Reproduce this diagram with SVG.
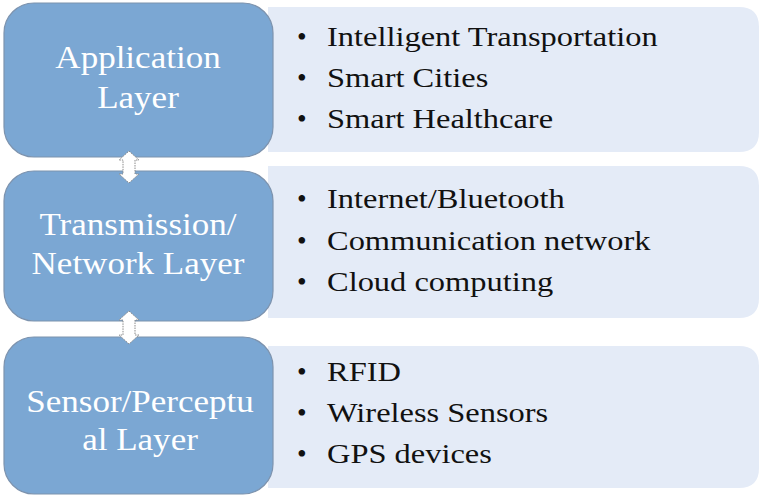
<svg xmlns="http://www.w3.org/2000/svg" width="762" height="502" viewBox="0 0 762 502" font-family="Liberation Serif, Times New Roman, serif">
<style>
.layer{fill:#7BA7D3;stroke:#7D93AE;stroke-width:1.2}
.panel{fill:#E4EBF7}
.lt{font-size:31px;fill:#FFFFFF;text-anchor:middle}
.it{font-size:27.5px;fill:#111111}
.arrow{fill:#FFFFFF;stroke:#8A8A8A;stroke-width:1;stroke-dasharray:1.5 1}
</style>
<rect width="762" height="502" fill="#FFFFFF"/>
<g id="panel-application">
<path class="panel" d="M268 7 H739 Q759 7 759 27 V132 Q759 152 739 152 H268 Z"/>
<text class="it" x="297" y="46">•</text>
<text class="it" x="297" y="87">•</text>
<text class="it" x="297" y="128">•</text>
<g transform="translate(327 0) scale(1.18 1)">
<text class="it" x="0" y="46">Intelligent Transportation</text>
<text class="it" x="0" y="87">Smart Cities</text>
<text class="it" x="0" y="128">Smart Healthcare</text>
</g>
</g>
<g id="panel-transmission">
<path class="panel" d="M268 166 H739 Q759 166 759 186 V298 Q759 318 739 318 H268 Z"/>
<text class="it" x="297" y="208">•</text>
<text class="it" x="297" y="250">•</text>
<text class="it" x="297" y="291">•</text>
<g transform="translate(327 0) scale(1.18 1)">
<text class="it" x="0" y="208">Internet/Bluetooth</text>
<text class="it" x="0" y="250">Communication network</text>
<text class="it" x="0" y="291">Cloud computing</text>
</g>
</g>
<g id="panel-sensor">
<path class="panel" d="M268 346 H739 Q759 346 759 366 V468 Q759 488 739 488 H268 Z"/>
<text class="it" x="297" y="381">•</text>
<text class="it" x="297" y="422">•</text>
<text class="it" x="297" y="463">•</text>
<g transform="translate(327 0) scale(1.18 1)">
<text class="it" x="0" y="381">RFID</text>
<text class="it" x="0" y="422">Wireless Sensors</text>
<text class="it" x="0" y="463">GPS devices</text>
</g>
</g>
<g id="application-layer">
<rect class="layer" x="4" y="3" width="269" height="154" rx="30" ry="30"/>
<g transform="translate(138 0) scale(1.13 1)">
<text class="lt" x="0" y="68">Application</text>
<text class="lt" x="0" y="108">Layer</text>
</g>
</g>
<g id="transmission-layer">
<rect class="layer" x="4" y="171" width="269" height="150" rx="30" ry="30"/>
<g transform="translate(138 0) scale(1.13 1)">
<text class="lt" x="0" y="235">Transmission/</text>
<text class="lt" x="0" y="274">Network Layer</text>
</g>
</g>
<g id="sensor-layer">
<rect class="layer" x="4" y="337" width="269" height="157" rx="30" ry="30"/>
<g transform="translate(140 0) scale(1.13 1)">
<text class="lt" x="0" y="412">Sensor/Perceptu</text>
<text class="lt" x="0" y="450">al Layer</text>
</g>
</g>
<g id="connectors">
<path class="arrow" d="M129 151 L139 160 H135 V174 H139 L129 183 L119 174 H123 V160 H119 Z"/>
<path class="arrow" d="M129 311 L139 320 H135 V335 H139 L129 344 L119 335 H123 V320 H119 Z"/>
</g>
</svg>
